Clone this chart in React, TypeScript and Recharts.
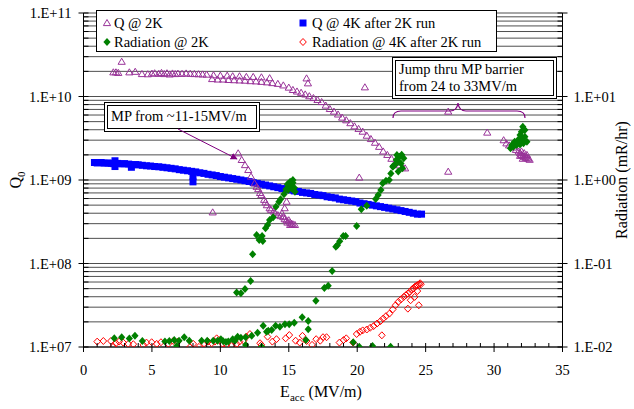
import { CartesianGrid, Scatter, ScatterChart, XAxis, YAxis } from "recharts";

const FONT = "'Liberation Serif', 'Times New Roman', 'DejaVu Serif', serif";
const PURPLE = "#993399";
const DARK_PURPLE = "#800080";
const BLUE = "#0000ff";
const GREEN = "#008000";
const RED = "#ff0000";

// E_acc (MV/m), Q0 — Q @ 2K
const q2K: [number, number][] = [
  [2.18, 19.5e9], [2.37, 19.5e9], [2.54, 19.2e9], [2.79, 26.1e9], [3.35, 19.5e9], [3.78, 19.8e9], [4.27, 18.6e9],
  [4.7, 18.5e9], [5.0, 18.8e9], [5.2, 19.0e9], [5.5, 18.7e9], [5.7, 19.2e9], [5.9, 18.6e9], [6.1, 19.0e9],
  [6.3, 18.4e9], [6.5, 18.9e9], [6.7, 18.6e9], [6.9, 18.8e9], [7.2, 18.7e9], [7.5, 18.9e9], [7.8, 18.7e9],
  [8.1, 18.6e9], [8.4, 18.5e9], [8.7, 18.4e9], [9.0, 18.3e9],
  [9.5, 18.0e9], [10.0, 17.8e9], [10.5, 17.8e9], [10.9, 17.5e9], [11.4, 17.5e9], [11.9, 17.2e9], [12.4, 17.2e9],
  [13.0, 17.0e9], [13.6, 16.6e9],
  [9.4, 16.2e9], [9.8, 16.0e9], [10.2, 16.0e9], [10.6, 15.8e9], [11.0, 15.7e9], [11.4, 15.6e9], [11.8, 15.5e9],
  [12.2, 15.3e9], [12.6, 15.2e9], [13.0, 15.0e9], [13.4, 14.8e9], [13.8, 14.5e9], [14.2, 14.2e9], [14.6, 13.6e9],
  [15.0, 12.8e9],
  [15.3, 12.0e9], [15.6, 11.5e9], [15.9, 11.1e9], [16.2, 10.6e9], [16.5, 10.1e9], [16.8, 9.6e9], [17.1, 9.1e9],
  [17.4, 8.6e9], [17.7, 7.8e9], [18.0, 7.1e9], [18.3, 6.6e9], [18.6, 6.1e9], [18.9, 5.6e9], [19.2, 5.2e9],
  [19.5, 4.8e9], [19.8, 4.4e9], [20.1, 4.1e9], [20.4, 3.8e9], [20.7, 3.4e9], [21.0, 3.1e9], [21.3, 2.8e9],
  [21.6, 2.5e9], [21.9, 2.2e9], [22.2, 2.0e9], [22.5, 1.8e9], [22.8, 1.62e9], [23.1, 1.5e9], [23.3, 1.42e9],
  [23.5, 1.38e9],
  [16.3, 16.5e9], [16.4, 14.4e9], [20.56, 12.9e9], [20.15, 1.07e9], [26.65, 1.26e9], [29.5, 3.7e9],
  [26.65, 6.6e9], [9.44, 0.41e9],
  [11.3, 2.09e9], [11.56, 1.74e9], [11.8, 1.51e9], [12.04, 1.32e9], [12.24, 1.1e9], [12.5, 0.91e9],
  [12.65, 0.83e9], [12.77, 0.78e9], [13.0, 0.66e9], [13.2, 0.58e9], [13.4, 0.5e9], [13.6, 0.46e9],
  [13.9, 0.42e9], [14.2, 0.38e9], [14.6, 0.36e9], [14.84, 0.33e9], [15.1, 0.31e9], [15.3, 0.295e9],
  [15.45, 0.29e9],
  [12.9, 0.7e9], [13.3, 0.54e9], [13.7, 0.44e9], [14.0, 0.4e9], [14.4, 0.37e9], [14.7, 0.34e9], [14.9, 0.31e9],
  [15.0, 0.33e9], [15.2, 0.3e9], [15.1, 0.29e9], [14.84, 0.55e9], [14.7, 0.46e9], [14.5, 0.4e9],
  [30.7, 3.0e9], [30.9, 2.75e9], [31.1, 2.6e9], [31.4, 2.45e9], [31.6, 2.3e9], [31.8, 2.2e9], [31.9, 2.1e9],
  [32.0, 2.0e9], [32.1, 1.95e9], [32.2, 1.9e9], [32.3, 1.85e9], [32.4, 1.85e9], [32.5, 1.8e9], [32.0, 2.2e9],
  [32.2, 2.1e9], [32.4, 2.0e9], [31.9, 1.95e9], [32.1, 1.8e9], [32.6, 1.75e9],
];

// Q @ 4K after 2K run
const q4K: [number, number][] = [
  [0.8, 1.62e9], [1.0, 1.6e9], [1.3, 1.62e9], [1.5, 1.59e9], [1.8, 1.6e9], [2.0, 1.58e9], [2.2, 1.57e9],
  [2.3, 1.7e9], [2.3, 1.45e9], [2.5, 1.58e9], [2.8, 1.56e9], [3.0, 1.57e9], [3.3, 1.55e9], [3.5, 1.52e9],
  [3.5, 1.42e9], [3.8, 1.53e9], [4.0, 1.52e9], [4.3, 1.5e9], [4.6, 1.48e9], [4.9, 1.47e9], [5.2, 1.45e9],
  [5.5, 1.44e9], [5.8, 1.42e9], [6.1, 1.4e9], [6.4, 1.38e9], [6.7, 1.36e9], [7.0, 1.33e9], [7.3, 1.31e9],
  [7.6, 1.29e9], [7.9, 1.27e9], [8.0, 1.1e9], [8.0, 0.95e9], [8.2, 1.25e9], [8.5, 1.22e9], [8.8, 1.2e9],
  [9.1, 1.17e9], [9.4, 1.15e9], [9.7, 1.13e9], [10.0, 1.1e9], [10.3, 1.08e9], [10.6, 1.06e9], [10.9, 1.04e9],
  [11.2, 1.02e9], [11.5, 1.0e9], [11.8, 0.98e9], [12.1, 0.96e9], [12.4, 0.93e9], [12.7, 0.91e9], [13.0, 0.89e9],
  [13.3, 0.87e9], [13.6, 0.85e9], [13.9, 0.83e9], [14.2, 0.81e9], [14.5, 0.79e9], [14.8, 0.77e9], [15.1, 0.76e9],
  [15.4, 0.74e9], [15.7, 0.73e9], [16.0, 0.71e9], [16.3, 0.7e9], [16.6, 0.69e9], [16.9, 0.67e9], [17.2, 0.66e9],
  [17.5, 0.65e9], [17.8, 0.63e9], [18.1, 0.62e9], [18.4, 0.61e9], [18.7, 0.59e9], [19.0, 0.58e9], [19.3, 0.57e9],
  [19.6, 0.56e9], [19.9, 0.55e9], [20.2, 0.53e9], [20.5, 0.52e9], [20.8, 0.51e9], [21.1, 0.5e9], [21.4, 0.49e9],
  [21.7, 0.48e9], [22.0, 0.47e9], [22.3, 0.46e9], [22.6, 0.45e9], [22.9, 0.44e9], [23.2, 0.43e9], [23.5, 0.42e9],
  [23.8, 0.41e9], [24.1, 0.4e9], [24.4, 0.39e9], [24.7, 0.39e9],
];

// E_acc, radiation (mR/hr) — Radiation @ 2K
const rad2K: [number, number][] = [
  [2.25, 0.0127], [2.79, 0.0131], [3.35, 0.0126], [3.76, 0.0136], [4.3, 0.0118], [5.95, 0.0116], [6.27, 0.0118],
  [6.63, 0.0121], [6.81, 0.0103], [6.98, 0.0119], [7.36, 0.0131], [7.73, 0.0119], [8.63, 0.0119], [9.04, 0.0119],
  [9.48, 0.0119], [9.8, 0.0119], [10.04, 0.0124], [10.21, 0.0117], [10.41, 0.0115], [10.58, 0.0116],
  [10.9, 0.0124], [11.07, 0.0119], [11.26, 0.0133], [11.5, 0.0129], [11.85, 0.0106], [11.85, 0.0131],
  [12.29, 0.0136], [12.72, 0.0148], [13.02, 0.0101], [13.13, 0.018], [13.38, 0.0152], [13.5, 0.0156],
  [13.75, 0.016], [14.04, 0.018], [14.35, 0.0175], [14.72, 0.0187], [15.03, 0.0187], [15.4, 0.0195],
  [15.98, 0.0227], [16.42, 0.0205], [16.42, 0.0163], [16.25, 0.0121], [19.71, 0.0114], [20.15, 0.0101],
  [21.12, 0.0103], [22.44, 0.0101],
  [11.19, 0.0448], [11.5, 0.044], [11.8, 0.0495], [12.21, 0.0617], [12.36, 0.129], [12.65, 0.219],
  [12.84, 0.191], [13.1, 0.186], [13.05, 0.213], [13.3, 0.264], [13.45, 0.289], [13.6, 0.332], [13.86, 0.357],
  [14.06, 0.479], [14.28, 0.55], [14.4, 0.587], [14.65, 0.675], [14.8, 0.774], [15.0, 0.832], [15.2, 0.871],
  [15.3, 0.929], [15.45, 0.724], [14.9, 0.89], [15.1, 0.95], [15.3, 1.0], [15.4, 0.81], [14.95, 0.76], [15.2, 0.79],
  [16.98, 0.0359], [17.6, 0.051], [17.88, 0.054], [18.17, 0.0813], [18.44, 0.159], [18.55, 0.165],
  [18.72, 0.185], [18.98, 0.213], [19.15, 0.213], [19.96, 0.281], [20.3, 0.446], [20.7, 0.492], [21.35, 0.592],
  [21.53, 0.661], [21.73, 0.759], [21.86, 0.912], [22.1, 0.982], [22.34, 1.0], [22.46, 1.2], [22.63, 1.47],
  [22.75, 1.51], [22.9, 1.99], [23.0, 1.66], [23.1, 1.9], [23.3, 1.38], [23.4, 1.82], [22.6, 1.44], [23.2, 1.58],
  [22.85, 1.74], [23.0, 1.26], [23.25, 2.0],
  [32.1, 4.35], [32.25, 3.97], [32.0, 3.79], [31.9, 3.46], [32.25, 3.3], [32.4, 2.88], [32.15, 2.88],
  [31.75, 3.01], [31.5, 2.88], [31.3, 2.62], [31.65, 2.62], [31.9, 2.67], [31.4, 2.51], [32.15, 2.75],
  [31.2, 2.4], [32.0, 3.16],
];

// Radiation @ 4K after 2K run
const rad4K: [number, number][] = [
  [1.0, 0.0116], [1.45, 0.0118], [2.0, 0.0118], [2.18, 0.0101], [2.37, 0.0111], [2.6, 0.0116], [2.9, 0.0113],
  [3.27, 0.0109], [3.64, 0.0108], [4.37, 0.0106], [4.6, 0.0113], [4.98, 0.0114], [5.35, 0.0109], [5.66, 0.0114],
  [6.2, 0.0109], [6.56, 0.0118], [6.88, 0.0116], [7.78, 0.01], [8.02, 0.0109], [8.5, 0.0103], [8.75, 0.0108],
  [9.1, 0.0116], [9.37, 0.0111], [9.6, 0.0116], [9.73, 0.0127], [9.97, 0.0121], [10.17, 0.0109],
  [10.46, 0.0106], [10.8, 0.0103], [11.2, 0.0109], [11.4, 0.0116], [11.7, 0.0119], [11.9, 0.0133],
  [12.16, 0.0143], [12.9, 0.0111], [13.0, 0.0106], [13.45, 0.0133], [13.8, 0.0116], [14.1, 0.0124],
  [14.77, 0.0127], [15.04, 0.0139], [15.5, 0.0119], [15.8, 0.0113], [16.0, 0.0136], [16.3, 0.0118],
  [16.7, 0.0106], [17.0, 0.0124], [17.3, 0.0119], [17.5, 0.0131], [17.76, 0.0131], [18.7, 0.0113],
  [19.0, 0.0121], [19.2, 0.0127], [19.7, 0.0113],
  [19.96, 0.0143], [20.2, 0.0152], [20.4, 0.0158], [20.7, 0.0162], [20.95, 0.017], [21.2, 0.0178],
  [21.45, 0.0191], [21.7, 0.0204], [21.9, 0.0219], [22.1, 0.0234], [22.35, 0.0251], [22.6, 0.0282],
  [22.8, 0.0316], [23.0, 0.0347], [23.2, 0.0372], [23.4, 0.0398], [23.55, 0.0417], [23.7, 0.0437],
  [23.85, 0.0457], [24.0, 0.049], [24.1, 0.0501], [24.2, 0.0525], [24.3, 0.0537], [24.4, 0.055], [24.5, 0.0562],
  [24.6, 0.058], [24.65, 0.0562],
  [21.8, 0.0138], [23.7, 0.0288], [23.9, 0.0363], [24.2, 0.0398], [24.5, 0.0316], [24.4, 0.0468],
];

const xTicks = Array.from({ length: 36 }, (_, i) => i);
const qTicks = [1e7, 1e8, 1e9, 1e10, 1e11];
const qTickLabels = ["1.E+07", "1.E+08", "1.E+09", "1.E+10", "1.E+11"];
const radTicks = [1e-2, 1e-1, 1, 1e1, 1e2];
const radTickLabels = ["1.E-02", "1.E-01", "1.E+00", "1.E+01", ""];

const logSteps = (lo: number, hi: number) => {
  const out: number[] = [];
  for (let e = lo; e < hi; e++) for (let k = 1; k < 10; k++) out.push(k * 10 ** e);
  out.push(10 ** hi);
  return out;
};
const qAllTicks = logSteps(7, 11);
const radAllTicks = logSteps(-2, 2);

const toRows = (pts: [number, number][]) => pts.map(([x, y]) => ({ x, y }));

const majorIndex = (list: number[], v: number) => list.findIndex((t) => Math.abs(t - v) / t < 1e-6);

const labelStyle = { fontFamily: FONT, fontSize: 14.5 };
const titleStyle = { fontFamily: FONT, fontSize: 16 };

function XTick(props: any) {
  const { x, y, payload } = props;
  const major = payload.value % 5 === 0;
  return (
    <g>
      <line x1={x} x2={x} y1={major ? y + 5 : y - 4} y2={major ? y - 4 : y} stroke="#000" />
      {major && (
        <text x={x} y={y + 28} textAnchor="middle" fill="#000" style={labelStyle}>
          {payload.value}
        </text>
      )}
    </g>
  );
}

function LeftTick(props: any) {
  const { x, y, payload } = props;
  const i = majorIndex(qTicks, payload.value);
  return (
    <g>
      <line x1={i >= 0 ? x - 5 : x} x2={x + 5} y1={y} y2={y} stroke="#000" />
      {i >= 0 && (
        <text x={x - 12} y={y + 5} textAnchor="end" fill="#000" style={labelStyle}>
          {qTickLabels[i]}
        </text>
      )}
    </g>
  );
}

function RightTick(props: any) {
  const { x, y, payload } = props;
  const i = majorIndex(radTicks, payload.value);
  return (
    <g>
      <line x1={x - 5} x2={i >= 0 ? x + 5 : x} y1={y} y2={y} stroke="#000" />
      {i >= 0 && (
        <text x={x + 11} y={y + 5} textAnchor="start" fill="#000" style={labelStyle}>
          {radTickLabels[i]}
        </text>
      )}
    </g>
  );
}

const Triangle = (p: any) =>
  p.cx == null ? null : (
    <polygon
      points={`${p.cx},${p.cy - 3.5} ${p.cx - 3.6},${p.cy + 2.6} ${p.cx + 3.6},${p.cy + 2.6}`}
      fill="none"
      stroke={PURPLE}
      strokeWidth={1}
    />
  );

const Square = (p: any) =>
  p.cx == null ? null : <rect x={p.cx - 3.5} y={p.cy - 3.5} width={7} height={7} fill={BLUE} />;

const FilledDiamond = (p: any) =>
  p.cx == null ? null : (
    <polygon
      points={`${p.cx},${p.cy - 4} ${p.cx + 3.6},${p.cy} ${p.cx},${p.cy + 4} ${p.cx - 3.6},${p.cy}`}
      fill={GREEN}
    />
  );

const OpenDiamond = (p: any) =>
  p.cx == null ? null : (
    <polygon
      points={`${p.cx},${p.cy - 3.5} ${p.cx + 3.3},${p.cy} ${p.cx},${p.cy + 3.5} ${p.cx - 3.3},${p.cy}`}
      fill="none"
      stroke={RED}
      strokeWidth={1}
    />
  );

export default function App() {
  return (
    <div style={{ position: "relative", width: 634, height: 409, background: "#fff", fontFamily: FONT }}>
      <style>{"body{margin:0;overflow:hidden;background:#fff}"}</style>
      <ScatterChart width={634} height={409} margin={{ top: 13, right: 0, bottom: 0, left: 0 }}>
        <CartesianGrid
          vertical={false}
          yAxisId="left"
          horizontalValues={qAllTicks}
          stroke="#222"
          strokeWidth={0.8}
        />
        <XAxis
          type="number"
          dataKey="x"
          domain={[0, 35]}
          ticks={xTicks}
          interval={0}
          tickSize={0}
          tickMargin={0}
          tickLine={false}
          tick={XTick}
          height={62}
          axisLine={{ stroke: "#000" }}
          allowDataOverflow
        />
        <YAxis
          yAxisId="left"
          type="number"
          dataKey="y"
          scale="log"
          domain={[1e7, 1e11]}
          ticks={qAllTicks}
          interval={0}
          tickSize={0}
          tickMargin={0}
          tickLine={false}
          tick={LeftTick}
          width={83.5}
          axisLine={{ stroke: "#000" }}
          allowDataOverflow
        />
        <YAxis
          yAxisId="right"
          orientation="right"
          type="number"
          dataKey="y"
          scale="log"
          domain={[1e-2, 1e2]}
          ticks={radAllTicks}
          interval={0}
          tickSize={0}
          tickMargin={0}
          tickLine={false}
          tick={RightTick}
          width={71.5}
          axisLine={{ stroke: "#000" }}
          allowDataOverflow
        />
        <Scatter name="Radiation @ 4K after 2K run" yAxisId="right" data={toRows(rad4K)} shape={OpenDiamond} isAnimationActive={false} />
        <Scatter name="Q @ 4K after 2K run" yAxisId="left" data={toRows(q4K)} shape={Square} isAnimationActive={false} />
        <Scatter name="Q @ 2K" yAxisId="left" data={toRows(q2K)} shape={Triangle} isAnimationActive={false} />
        <Scatter name="Radiation @ 2K" yAxisId="right" data={toRows(rad2K)} shape={FilledDiamond} isAnimationActive={false} />
      </ScatterChart>

      <svg width={634} height={409} style={{ position: "absolute", left: 0, top: 0, pointerEvents: "none" }}>
        <defs>
          <marker id="arrow" viewBox="0 0 10 10" refX="9" refY="5" markerWidth="7" markerHeight="7" orient="auto">
            <path d="M0,0 L10,5 L0,10 z" fill={DARK_PURPLE} />
          </marker>
        </defs>

        {/* legend */}
        <rect x={96.5} y={10.5} width={400} height={41} fill="#fff" stroke="#000" />
        {Triangle({ cx: 107, cy: 23 })}
        <text x={114} y={28} style={labelStyle}>Q @ 2K</text>
        {Square({ cx: 303, cy: 23 })}
        <text x={312} y={28} style={labelStyle}>Q @ 4K after 2K run</text>
        {FilledDiamond({ cx: 107, cy: 42 })}
        <text x={114} y={47} style={labelStyle}>Radiation @ 2K</text>
        {OpenDiamond({ cx: 303, cy: 42 })}
        <text x={312} y={47} style={labelStyle}>Radiation @ 4K after 2K run</text>

        {/* MP annotation */}
        <rect x={104.5} y={102.5} width={155} height={29} fill="#fff" stroke="#000" />
        <rect x={107.5} y={105.5} width={149} height={23} fill="none" stroke="#000" />
        <text x={111} y={121} style={labelStyle}>MP from ~11-15MV/m</text>
        <line x1={178} y1={129} x2={237} y2={159} stroke={DARK_PURPLE} strokeWidth={1} markerEnd="url(#arrow)" />

        {/* jump annotation */}
        <rect x={392.5} y={57.5} width={164} height={41} fill="#fff" stroke="#000" />
        <rect x={395.5} y={60.5} width={158} height={35} fill="none" stroke="#000" />
        <text x={399} y={74} style={labelStyle}>Jump thru MP barrier</text>
        <text x={399} y={91} style={labelStyle}>from 24 to 33MV/m</text>
        <path
          d="M393,118 Q393,111 401,111 L450,111 Q457,111 458,103 Q459,111 466,111 L517,111 Q525,111 525,118"
          fill="none"
          stroke={DARK_PURPLE}
          strokeWidth={1.2}
        />

        {/* axis titles */}
        <text transform="rotate(-90 21 180)" x={21} y={180} textAnchor="middle" style={titleStyle}>
          Q<tspan fontSize={11} dy={4}>0</tspan>
        </text>
        <text transform="rotate(-90 627 180)" x={627} y={180} textAnchor="middle" style={titleStyle}>
          Radiation (mR/hr)
        </text>
        <text x={321} y={397} textAnchor="middle" style={titleStyle}>
          E<tspan fontSize={11} dy={4}>acc</tspan>
          <tspan dy={-4}> (MV/m)</tspan>
        </text>
      </svg>
    </div>
  );
}
